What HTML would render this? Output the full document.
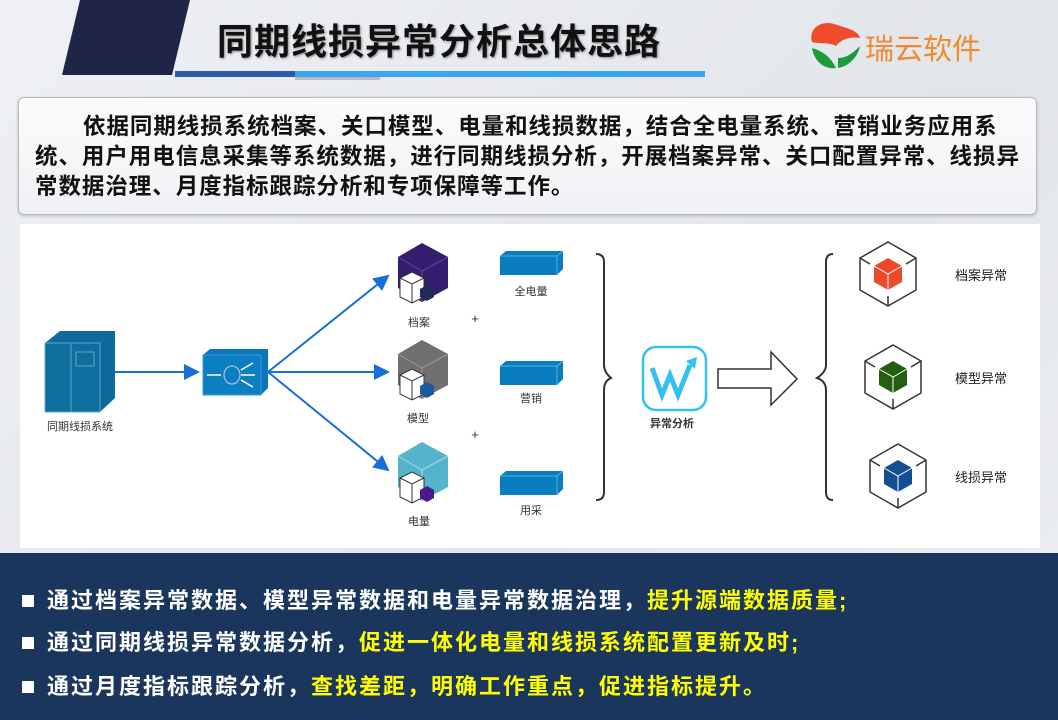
<!DOCTYPE html>
<html><head><meta charset="utf-8"><style>
*{margin:0;padding:0;box-sizing:border-box}
body{width:1058px;height:720px;overflow:hidden;position:relative;background:linear-gradient(135deg,#eef0f4,#e2e5ea 60%,#eceef2);font-family:"Liberation Sans","Noto Sans CJK SC",sans-serif}
.abs{position:absolute}
.title{left:217px;top:13px;font-size:36px;font-weight:bold;color:#111;letter-spacing:1px;text-shadow:1px 1px 2px #888;white-space:nowrap}
.box{left:18px;top:97px;width:1019px;height:118px;border:1px solid #bbb;border-radius:6px;background:linear-gradient(#fafbfc,#f0f1f4);box-shadow:0 1px 3px rgba(0,0,0,.2)}
.box p{position:absolute;left:16px;top:14px;width:1000px;font-size:22.5px;font-weight:bold;line-height:30px;color:#111;text-indent:48px;letter-spacing:0.95px}
.panel{left:20px;top:224px;width:1020px;height:324px;background:#fff}
.band{left:0;top:553px;width:1058px;height:167px;background:#1b365d}
.bl{position:absolute;left:22px;font-size:22px;font-weight:bold;color:#fff;white-space:nowrap;letter-spacing:2px}
.bl i{display:inline-block;width:12px;height:12px;background:#fff;margin-right:13px;vertical-align:1px}
.y{color:#ffff00}
</style></head><body>
<svg class="abs" style="left:0;top:0" width="1058" height="90">
<polygon points="80,0 190,0 172,75 62,75" fill="#1f2547"/>
<rect x="175" y="71" width="120" height="6" fill="#2f5ca8"/>
<rect x="295" y="71" width="410" height="6" fill="#3aa6f0"/>
<rect x="295" y="77" width="85" height="3" fill="#888" opacity=".5"/>
<path d="M812,42 C808,28 822,20 834,24 C846,28 858,30 860,38 C850,36 840,40 836,46 C830,42 820,44 812,42Z" fill="#f04b2a"/>
<path d="M812,48 C814,62 826,70 836,68 C832,60 826,52 812,48Z M838,68 C850,66 858,56 860,46 C852,54 846,58 838,58Z" fill="#1d9a3a"/>
<text x="865" y="59" font-size="29" fill="#f08a2c" font-family="Liberation Sans,Noto Sans CJK SC,sans-serif">瑞云软件</text>
</svg>
<div class="abs title">同期线损异常分析总体思路</div>
<div class="abs box"><p>依据同期线损系统档案、关口模型、电量和线损数据，结合全电量系统、营销业务应用系统、用户用电信息采集等系统数据，进行同期线损分析，开展档案异常、关口配置异常、线损异常数据治理、月度指标跟踪分析和专项保障等工作。</p></div>
<div class="abs panel"></div>
<svg class="abs" style="left:0;top:0" width="1058" height="560" font-family="Liberation Sans,Noto Sans CJK SC,sans-serif">
<defs><marker id="ar" markerWidth="8" markerHeight="8" refX="7" refY="4" orient="auto"><path d="M0,0 L8,4 L0,8Z" fill="#1670d8"/></marker></defs>
<polygon points="45,343 60,331 115,331 115,398 100,412 45,412" fill="#0d6a9a"/>
<rect x="45" y="343" width="55" height="69" fill="#0e6f9f" stroke="#5aa8c8" stroke-width="1"/>
<line x1="71" y1="343" x2="71" y2="412" stroke="#5aa8c8"/>
<rect x="76" y="352" width="18" height="14" fill="none" stroke="#5aa8c8"/>
<text x="80" y="430" font-size="11" fill="#333" text-anchor="middle">同期线损系统</text>
<polygon points="203,355 210,349 268,349 268,388 261,395 203,395" fill="#0a77bb"/>
<rect x="203" y="355" width="58" height="40" fill="#0b7fc2" stroke="#3a9ad8"/>
<ellipse cx="232" cy="375" rx="8" ry="9" fill="none" stroke="#cce"/>
<path d="M207,375h14M241,375h14M241,370l12,-7M241,380l12,7" stroke="#fff" stroke-width="1.5"/>
<line x1="115" y1="372" x2="198" y2="372" stroke="#1670d8" stroke-width="2" marker-end="url(#ar)"/>
<line x1="268" y1="372" x2="388" y2="276" stroke="#1670d8" stroke-width="2" marker-end="url(#ar)"/>
<line x1="268" y1="372" x2="388" y2="372" stroke="#1670d8" stroke-width="2" marker-end="url(#ar)"/>
<line x1="268" y1="372" x2="388" y2="470" stroke="#1670d8" stroke-width="2" marker-end="url(#ar)"/>
<polygon points="422,243 448,257 448,288 422,302 398,288 398,257" fill="#341c6e"/><path d="M398,257 422,271 448,257 M422,271 422,302" stroke="#5a4a9a" fill="none"/>
<polygon points="400,278 412,272 424,278 424,297 412,303 400,297" fill="#fff" stroke="#333"/><path d="M400,278 412,284 424,278M412,284V303" stroke="#333" fill="none"/>
<polygon points="420,289 427,285 434,289 434,297 427,301 420,297" fill="#1f2a55"/>
<text x="419" y="326" font-size="11" fill="#333" text-anchor="middle">档案</text>
<polygon points="422,340 448,354 448,385 422,399 398,385 398,354" fill="#707070"/><path d="M398,354 422,368 448,354 M422,368 422,399" stroke="#999" fill="none"/>
<polygon points="400,375 412,369 424,375 424,394 412,400 400,394" fill="#fff" stroke="#333"/><path d="M400,375 412,381 424,375M412,381V400" stroke="#333" fill="none"/>
<polygon points="420,386 427,382 434,386 434,394 427,398 420,394" fill="#1a5aa0"/>
<text x="418" y="422" font-size="11" fill="#333" text-anchor="middle">模型</text>
<polygon points="422,442 448,456 448,487 422,501 398,487 398,456" fill="#55b3cc"/><path d="M398,456 422,470 448,456 M422,470 422,501" stroke="#a8dce8" fill="none"/>
<polygon points="400,478 412,472 424,478 424,497 412,503 400,497" fill="#fff" stroke="#333"/><path d="M400,478 412,484 424,478M412,484V503" stroke="#333" fill="none"/>
<polygon points="420,490 427,486 434,490 434,498 427,502 420,498" fill="#4a1a8a"/>
<text x="419" y="525" font-size="11" fill="#333" text-anchor="middle">电量</text>
<g fill="#0a7cc0"><polygon points="500,256 506,251 563,251 563,269 557,275 500,275"/><polygon points="500,366 506,361 563,361 563,379 557,385 500,385"/><polygon points="500,476 506,471 563,471 563,489 557,495 500,495"/></g>
<g stroke="#5ab0e0" fill="none"><path d="M500,256h57v19M557,256l6,-5"/><path d="M500,366h57v19M557,366l6,-5"/><path d="M500,476h57v19M557,476l6,-5"/></g>
<text x="531" y="295" font-size="11" fill="#333" text-anchor="middle">全电量</text>
<text x="531" y="402" font-size="11" fill="#333" text-anchor="middle">营销</text>
<text x="531" y="514" font-size="11" fill="#333" text-anchor="middle">用采</text>
<text x="475" y="323" font-size="13" fill="#333" text-anchor="middle">+</text>
<text x="475" y="439" font-size="13" fill="#333" text-anchor="middle">+</text>
<path d="M596,254 Q604,254 604,262 V365 Q604,372 611,378 Q604,381 604,390 V492 Q604,500 596,500" fill="none" stroke="#333" stroke-width="2"/>
<rect x="643" y="347" width="63" height="63" rx="13" fill="#fff" stroke="#35c0f0" stroke-width="2.5"/>
<path d="M652,368 L662,395 L670,375 L678,395 L690,365" fill="none" stroke="#35c0f0" stroke-width="5"/>
<polygon points="686,361 697,357 695,369" fill="#35c0f0"/>
<text x="672" y="427" font-size="11" fill="#333" text-anchor="middle" font-weight="bold">异常分析</text>
<polygon points="718,369 771,369 771,352 797,379 771,405 771,388 718,388" fill="#fff" stroke="#333" stroke-width="1.5"/>
<path d="M833,254 Q826,254 826,262 V365 Q826,372 817,378 Q826,381 826,390 V492 Q826,500 833,500" fill="none" stroke="#333" stroke-width="2"/>
<g fill="none" stroke="#333" stroke-width="1.5">
<polygon points="888,242 916,258 916,290 888,306 860,290 860,258"/><polygon points="893,345 921,361 921,393 893,409 865,393 865,361"/><polygon points="898,444 926,460 926,492 898,508 870,492 870,460"/>
<path d="M860,258l10,6M916,258l-10,6M888,306v-10M865,361l10,6M921,361l-10,6M893,409v-10M870,460l10,6M926,460l-10,6M898,508v-10"/>
</g>
<polygon points="888,258 902,266 902,282 888,290 874,282 874,266" fill="#ea4a2a"/><path d="M874,266 888,274 902,266M888,274V290" stroke="#fff" fill="none"/>
<polygon points="893,361 907,369 907,385 893,393 879,385 879,369" fill="#245e10"/><path d="M879,369 893,377 907,369M893,377V393" stroke="#fff" fill="none"/>
<polygon points="898,460 912,468 912,484 898,492 884,484 884,468" fill="#164e94"/><path d="M884,468 898,476 912,468M898,476V492" stroke="#fff" fill="none"/>
<text x="955" y="280" font-size="13" fill="#222">档案异常</text>
<text x="955" y="383" font-size="13" fill="#222">模型异常</text>
<text x="955" y="482" font-size="13" fill="#222">线损异常</text>
</svg>
<div class="abs band">
<div class="bl" style="top:30px"><i></i>通过档案异常数据、模型异常数据和电量异常数据治理，<span class="y">提升源端数据质量;</span></div>
<div class="bl" style="top:72px"><i></i>通过同期线损异常数据分析，<span class="y">促进一体化电量和线损系统配置更新及时;</span></div>
<div class="bl" style="top:116px"><i></i>通过月度指标跟踪分析，<span class="y">查找差距，明确工作重点，促进指标提升。</span></div>
</div>
</body></html>
